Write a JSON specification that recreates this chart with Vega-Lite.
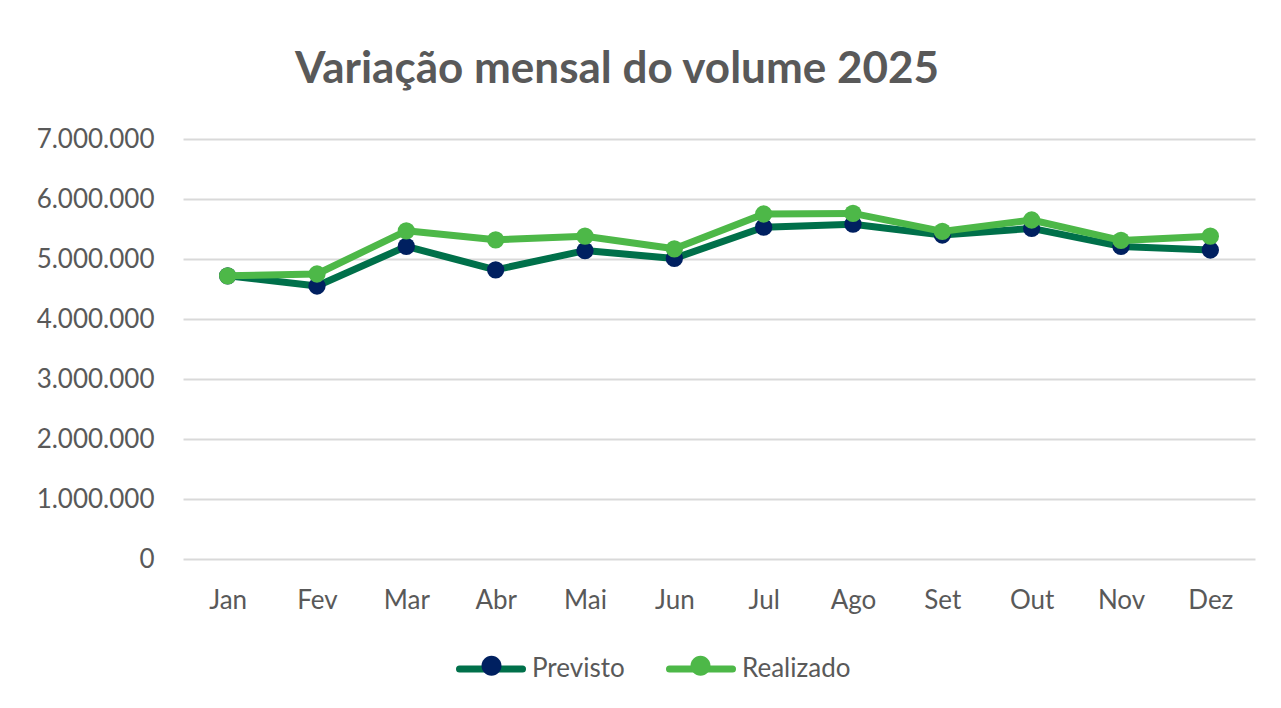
{
  "$schema": "https://vega.github.io/schema/vega-lite/v6.json",
  "autosize": {"type": "none"},
  "width": 1072,
  "height": 420,
  "padding": {"left": 183, "top": 139, "right": 26, "bottom": 149},
  "background": "white",
  "title": {
    "text": "Variação  mensal do volume 2025",
    "font": "Lato",
    "fontSize": 44,
    "fontWeight": "bold",
    "color": "#595959",
    "anchor": "middle",
    "baseline": "alphabetic",
    "offset": 55,
    "dy": 56,
    "dx": -102
  },
  "data": {
    "values": [
      {"mes": "Jan", "serie": "Previsto", "valor": 4720000},
      {"mes": "Fev", "serie": "Previsto", "valor": 4550000},
      {"mes": "Mar", "serie": "Previsto", "valor": 5210000},
      {"mes": "Abr", "serie": "Previsto", "valor": 4820000},
      {"mes": "Mai", "serie": "Previsto", "valor": 5140000},
      {"mes": "Jun", "serie": "Previsto", "valor": 5010000},
      {"mes": "Jul", "serie": "Previsto", "valor": 5530000},
      {"mes": "Ago", "serie": "Previsto", "valor": 5580000},
      {"mes": "Set", "serie": "Previsto", "valor": 5400000},
      {"mes": "Out", "serie": "Previsto", "valor": 5510000},
      {"mes": "Nov", "serie": "Previsto", "valor": 5210000},
      {"mes": "Dez", "serie": "Previsto", "valor": 5150000},
      {"mes": "Jan", "serie": "Realizado", "valor": 4720000},
      {"mes": "Fev", "serie": "Realizado", "valor": 4750000},
      {"mes": "Mar", "serie": "Realizado", "valor": 5470000},
      {"mes": "Abr", "serie": "Realizado", "valor": 5320000},
      {"mes": "Mai", "serie": "Realizado", "valor": 5380000},
      {"mes": "Jun", "serie": "Realizado", "valor": 5170000},
      {"mes": "Jul", "serie": "Realizado", "valor": 5750000},
      {"mes": "Ago", "serie": "Realizado", "valor": 5760000},
      {"mes": "Set", "serie": "Realizado", "valor": 5460000},
      {"mes": "Out", "serie": "Realizado", "valor": 5650000},
      {"mes": "Nov", "serie": "Realizado", "valor": 5310000},
      {"mes": "Dez", "serie": "Realizado", "valor": 5380000}
    ]
  },
  "encoding": {
    "x": {
      "field": "mes",
      "type": "nominal",
      "sort": ["Jan", "Fev", "Mar", "Abr", "Mai", "Jun", "Jul", "Ago", "Set", "Out", "Nov", "Dez"],
      "scale": {"type": "point", "padding": 0.5},
      "axis": {
        "title": null,
        "labelAngle": 0,
        "domain": false,
        "ticks": false,
        "tickSize": 0,
        "grid": false,
        "labelFont": "Lato",
        "labelFontSize": 26,
        "labelColor": "#595959",
        "labelBaseline": "alphabetic",
        "labelPadding": 49
      }
    },
    "y": {
      "field": "valor",
      "type": "quantitative",
      "scale": {"domain": [0, 7000000], "nice": false},
      "axis": {
        "title": null,
        "values": [0, 1000000, 2000000, 3000000, 4000000, 5000000, 6000000, 7000000],
        "labelExpr": "replace(format(datum.value, ','), /,/g, '.')",
        "domain": false,
        "ticks": false,
        "tickSize": 0,
        "grid": true,
        "gridColor": "#d9d9d9",
        "gridWidth": 2,
        "labelFont": "Lato",
        "labelFontSize": 26,
        "labelColor": "#595959",
        "labelPadding": 29
      }
    }
  },
  "layer": [
    {
      "transform": [{"filter": "datum.serie === 'Previsto'"}],
      "mark": {"type": "line", "strokeWidth": 7, "strokeJoin": "round", "strokeCap": "round"},
      "encoding": {
        "color": {
          "field": "serie",
          "type": "nominal",
          "scale": {"range": ["#00704A", "#4DB848"]},
          "legend": {
            "title": null,
            "orient": "none",
            "direction": "horizontal",
            "legendX": 273,
            "legendY": 495,
            "symbolType": "stroke",
            "symbolSize": 3969,
            "symbolStrokeWidth": 7,
            "labelFont": "Lato",
            "labelFontSize": 26,
            "labelColor": "#595959",
            "labelOffset": 6,
            "columnPadding": 30,
            "zindex": 0,
            "encode": {"symbols": {"update": {"strokeCap": {"value": "round"}}}}
          }
        }
      }
    },
    {
      "transform": [{"filter": "datum.serie === 'Previsto'"}],
      "mark": {"type": "point", "filled": true, "size": 300, "opacity": 1},
      "encoding": {
        "fill": {
          "field": "serie",
          "type": "nominal",
          "scale": {"domain": ["Previsto", "Realizado"], "range": ["#002060", "#4DB848"]},
          "legend": {
            "title": null,
            "orient": "none",
            "direction": "horizontal",
            "legendX": 277,
            "legendY": 495,
            "symbolType": "M-0.317,0A0.317,0.317,0,1,0,0.317,0A0.317,0.317,0,1,0,-0.317,0Z",
            "symbolSize": 3969,
            "symbolStrokeWidth": 0,
            "symbolOpacity": 1,
            "labelFont": "Lato",
            "labelFontSize": 26,
            "labelExpr": "''",
            "labelOffset": 6,
            "columnPadding": 140,
            "zindex": 1
          }
        }
      }
    },
    {
      "transform": [{"filter": "datum.serie === 'Realizado'"}],
      "mark": {"type": "line", "strokeWidth": 7, "strokeJoin": "round", "strokeCap": "round"},
      "encoding": {
        "color": {"field": "serie", "type": "nominal"}
      }
    },
    {
      "transform": [{"filter": "datum.serie === 'Realizado'"}],
      "mark": {"type": "point", "filled": true, "size": 300, "opacity": 1},
      "encoding": {
        "fill": {"field": "serie", "type": "nominal"}
      }
    }
  ],
  "config": {
    "view": {"stroke": null}
  }
}
